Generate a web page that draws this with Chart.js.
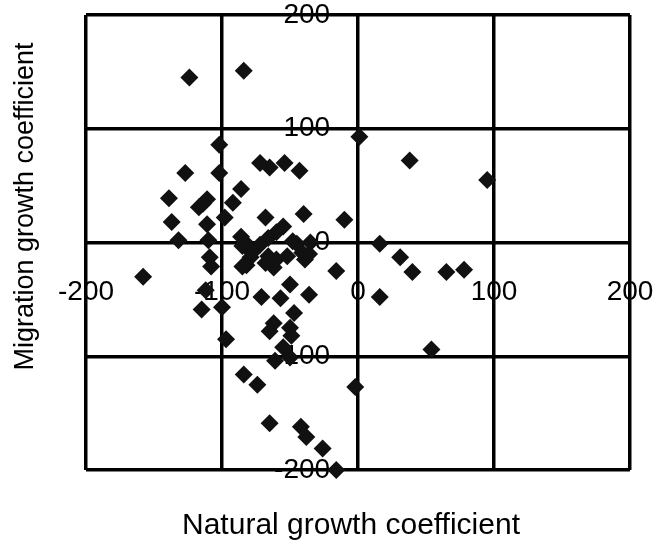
<!DOCTYPE html>
<html>
<head>
<meta charset="utf-8">
<script src="https://cdn.jsdelivr.net/npm/chart.js@4"></script>
<style>
  html, body { margin: 0; padding: 0; background: #fff; }
  #wrap { width: 660px; height: 548px; }
</style>
</head>
<body>
<div id="wrap"><canvas id="growthChart" width="660" height="548"></canvas></div>
<script>
// values
const naturalGrowth = [
  -124, -84, -102, -127, -102, -86, -139, -111, -117, -114,
  -92, -137, -111, -98, -132, -110, -86, -72, -65, -54,
  -43, -68, -40, -10, 1, 38, 95, -55, -60, -66,
  -48, -35, -45, -41, -36, -16, -79, -82, -60, -62,
  -52, -39, -71, -57, -50, -36, -47, -62, -65, -50,
  -49, -55, -61, -50, -84, -74, -65, -42, -38, -26,
  -16, -2, -158, -109, -108, -112, -115, -100, -97, -85,
  -85, -83, 16, 31, 40, 65, 78, 16, 54, -72,
  -78, -66, -68
];
const migrationGrowth = [
  145, 151, 86, 61, 61, 47, 39, 38, 31, 34,
  35, 18, 16, 22, 2, 2, 5, 70, 66, 70,
  63, 22, 25, 20, 93, 72, 55, 14, 9, 4,
  1, 0, -1, -9, -10, -25, -13, -20, -15, -22,
  -12, -15, -48, -49, -37, -46, -62, -71, -78, -75,
  -82, -92, -104, -101, -116, -125, -159, -162, -171, -181,
  -200, -127, -30, -13, -21, -42, -59, -57, -85, -3,
  -21, 0, -1, -13, -26, -26, -24, -48, -94, -2,
  -9, -12, -18
];
const axisMin = -200;
const axisMax = 200;
const axisStep = 100;
const xTitle = 'Natural growth coefficient';
const yTitle = 'Migration growth coefficient';

const fontFamily = '"Liberation Sans", Arial, sans-serif';

const points = naturalGrowth.map((x, i) => ({ x: x, y: migrationGrowth[i] }));

// axis titles drawn by hand, the axes sit in the middle of the plot
const axisTitles = {
  id: 'axisTitles',
  afterDraw(chart) {
    const ctx = chart.ctx;
    const area = chart.chartArea;
    ctx.save();
    ctx.fillStyle = '#000';
    ctx.textAlign = 'center';
    ctx.textBaseline = 'alphabetic';
    ctx.font = '30px ' + fontFamily;
    ctx.fillText(xTitle, (area.left + area.right) / 2 - 7, area.bottom + 64);
    ctx.font = '27px ' + fontFamily;
    ctx.translate(33, (area.top + area.bottom) / 2 - 36);
    ctx.rotate(-Math.PI / 2);
    ctx.fillText(yTitle, 0, 0);
    ctx.restore();
  }
};

function axisOptions(pos, pad) {
  return {
    type: 'linear',
    position: pos,
    min: axisMin,
    max: axisMax,
    ticks: {
      stepSize: axisStep,
      autoSkip: false,
      maxRotation: 0,
      padding: pad,
      color: '#000',
      font: { family: fontFamily, size: 28, lineHeight: 1 }
    },
    grid: { color: '#000', lineWidth: 3.5, drawTicks: false },
    border: { display: false },
    // keep the chart area where the layout padding puts it
    afterFit(scale) {
      scale.paddingTop = 0;
      scale.paddingBottom = 0;
      scale.paddingLeft = 0;
      scale.paddingRight = 0;
    }
  };
}

const ctx = document.getElementById('growthChart').getContext('2d');
new Chart(ctx, {
  type: 'scatter',
  data: {
    datasets: [{
      data: points,
      pointStyle: 'rectRot',
      pointRadius: 9,
      pointBorderWidth: 0,
      backgroundColor: '#111',
      borderColor: '#111',
      clip: false
    }]
  },
  options: {
    responsive: false,
    animation: false,
    layout: { padding: { left: 86, right: 30, top: 15, bottom: 78 } },
    plugins: {
      legend: { display: false },
      tooltip: { enabled: false }
    },
    scales: {
      x: axisOptions({ y: 0 }, 36),
      // centred y labels ignore padding, so hang the (hidden) axis a bit left of 0;
      // the zero line itself is the x scale's grid line
      y: axisOptions({ x: -20.5 }, 0)
    }
  },
  plugins: [axisTitles]
});
</script>
</body>
</html>
